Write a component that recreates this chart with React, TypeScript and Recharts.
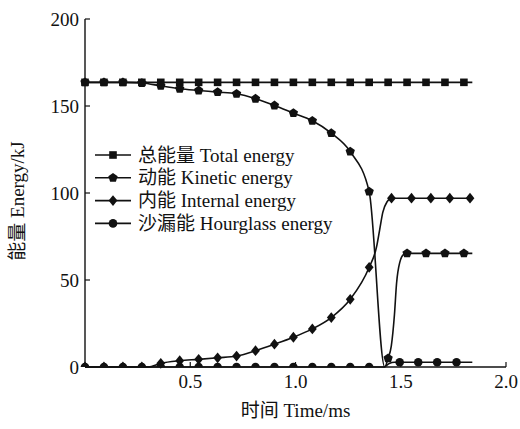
import React from 'react';
import { LineChart, Line, XAxis, YAxis } from 'recharts';

// ---- data ----
const gridTimes = [0, 0.09, 0.18, 0.27, 0.36, 0.45, 0.54, 0.63, 0.72, 0.81, 0.9, 0.99, 1.08, 1.17, 1.26, 1.35, 1.44, 1.53, 1.62, 1.71, 1.8];

const totalValues = [163.6, 163.6, 163.6, 163.6, 163.6, 163.6, 163.6, 163.6, 163.6, 163.6, 163.6, 163.6, 163.6, 163.6, 163.6, 163.6, 163.6, 163.6, 163.6, 163.6, 163.6];
const totalExtraTimes = [1.84];
const totalExtraValues = [163.6];

const kineticValues = [163.6, 163.6, 163.6, 163.2, 161.6, 159.9, 158.9, 158.0, 157.0, 154.2, 150.3, 145.9, 141.5, 134.4, 123.8, 100.8, 5.0, 65.3, 65.3, 65.3, 65.3];
const kineticExtraTimes = [1.424, 1.455, 1.47, 1.48, 1.495, 1.515, 1.84];
const kineticExtraValues = [0, 12, 30, 48, 60, 64.8, 65.3];

const internalTimes = [0, 0.09, 0.18, 0.27, 0.36, 0.45, 0.54, 0.63, 0.72, 0.81, 0.9, 0.99, 1.08, 1.17, 1.26, 1.35, 1.456, 1.551, 1.643, 1.733, 1.829];
const internalValues = [0, 0, 0, 0, 2.1, 3.6, 4.4, 5.3, 6.3, 9.4, 13.1, 17.1, 21.9, 28.4, 38.9, 57.3, 97, 97, 97, 97, 97];
const internalExtraTimes = [0.3, 1.385, 1.4, 1.415, 1.435, 1.84];
const internalExtraValues = [0, 69, 79, 89, 95, 97];

const hourglassTimes = [0, 0.09, 0.18, 0.27, 0.36, 0.45, 0.54, 0.63, 0.72, 0.81, 0.9, 0.99, 1.08, 1.17, 1.26, 1.35, 1.495, 1.583, 1.673, 1.765];
const hourglassValues = [0, 0, 0, 0, 0, 0, 0, 0, 0, 0, 0, 0, 0, 0, 0, 0, 2.7, 2.7, 2.7, 2.7];
const hourglassExtraTimes = [1.42, 1.445, 1.47, 1.84];
const hourglassExtraValues = [0, 2.0, 2.7, 2.7];

const seriesNames = ['总能量 Total energy', '动能 Kinetic energy', '内能 Internal energy', '沙漏能 Hourglass energy'];
const xTicks = [0.5, 1.0, 1.5, 2.0];
const yTicks = [0, 50, 100, 150, 200];
const xTitle = '时间 Time/ms';
const yTitle = '能量 Energy/kJ';

// ---- helpers ----
type Pt = { t: number; v: number; mk: boolean };
function build(mt: number[], mv: number[], et: number[], ev: number[]): Pt[] {
  const pts: Pt[] = [];
  mt.forEach((t, i) => pts.push({ t, v: mv[i], mk: true }));
  et.forEach((t, i) => pts.push({ t, v: ev[i], mk: false }));
  pts.sort((a, b) => a.t - b.t);
  return pts;
}

type Shape = 'square' | 'pentagon' | 'diamond' | 'circle';

const series: { name: string; shape: Shape; data: Pt[] }[] = [
  { name: seriesNames[0], shape: 'square', data: build(gridTimes, totalValues, totalExtraTimes, totalExtraValues) },
  { name: seriesNames[1], shape: 'pentagon', data: build(gridTimes, kineticValues, kineticExtraTimes, kineticExtraValues) },
  { name: seriesNames[2], shape: 'diamond', data: build(internalTimes, internalValues, internalExtraTimes, internalExtraValues) },
  { name: seriesNames[3], shape: 'circle', data: build(hourglassTimes, hourglassValues, hourglassExtraTimes, hourglassExtraValues) },
];

const FONT = "'Liberation Serif', 'Times New Roman', 'Noto Sans CJK SC', serif";
const INK = '#111';

function markerShape(shape: Shape, cx: number, cy: number, half: boolean, key?: string) {
  if (shape === 'square') {
    const s = 3.8;
    return <rect key={key} x={cx - s} y={cy - s} width={2 * s} height={half ? s : 2 * s} fill={INK} />;
  }
  if (shape === 'diamond') {
    const w = 4.4, h = 5.4;
    const pts = half
      ? `${cx},${cy - h} ${cx + w},${cy} ${cx - w},${cy}`
      : `${cx},${cy - h} ${cx + w},${cy} ${cx},${cy + h} ${cx - w},${cy}`;
    return <polygon key={key} points={pts} fill={INK} />;
  }
  if (shape === 'pentagon') {
    const r = 4.9;
    const pts: string[] = [];
    for (let k = 0; k < 5; k++) {
      const a = (-90 + 72 * k) * Math.PI / 180;
      pts.push(`${cx + r * Math.cos(a)},${cy + r * Math.sin(a)}`);
    }
    return <polygon key={key} points={pts.join(' ')} fill={INK} />;
  }
  const r = 4.3;
  if (half) {
    return <path key={key} d={`M${cx - r},${cy} A${r},${r} 0 0 1 ${cx + r},${cy} Z`} fill={INK} />;
  }
  return <circle key={key} cx={cx} cy={cy} r={r} fill={INK} />;
}

const makeDot = (shape: Shape) => (props: any) => {
  const { cx, cy, payload, index } = props;
  const key = `${shape}-${index}`;
  if (!payload || !payload.mk || cx == null || cy == null) return <g key={key} />;
  return markerShape(shape, cx, cy, payload.v === 0, key);
};

const XTick = (props: any) => {
  const { x, y, payload } = props;
  const axisY = y - 8;
  return (
    <g>
      <line x1={x} x2={x} y1={axisY} y2={axisY - 5} stroke={INK} strokeWidth={1.2} />
      <text x={x} y={y} dy="0.71em" textAnchor="middle" fontFamily={FONT} fontSize={19} fill={INK}>
        {Number(payload.value).toFixed(1)}
      </text>
    </g>
  );
};

const YTick = (props: any) => {
  const { x, y, payload } = props;
  const axisX = x + 6;
  return (
    <g>
      <line x1={axisX} x2={axisX + 5} y1={y} y2={y} stroke={INK} strokeWidth={1.2} />
      <text x={x} y={y} dy="0.355em" textAnchor="end" fontFamily={FONT} fontSize={19} fill={INK}>
        {payload.value}
      </text>
    </g>
  );
};

export default function App() {
  return (
    <div style={{ position: 'absolute', left: 0, top: 0, width: 520, height: 429, background: '#fff' }}>
      <LineChart width={520} height={429} margin={{ top: 19, right: 14, bottom: 0, left: 0 }}>
        <XAxis
          type="number"
          dataKey="t"
          domain={[0, 2]}
          ticks={xTicks}
          tickSize={0}
          tickMargin={8}
          tickLine={false}
          height={62}
          axisLine={{ stroke: INK, strokeWidth: 1.4 }}
          tick={<XTick />}
          allowDuplicatedCategory={false}
          label={{
            content: (p: any) => {
              const vb = p.viewBox || { x: 85, width: 421 };
              return (
                <text x={vb.x + vb.width / 2} y={417} textAnchor="middle" fontFamily={FONT} fontSize={19} fill={INK}>
                  {xTitle}
                </text>
              );
            },
          }}
        />
        <YAxis
          type="number"
          domain={[0, 200]}
          ticks={yTicks}
          width={85}
          tickSize={0}
          tickMargin={6}
          tickLine={false}
          axisLine={{ stroke: INK, strokeWidth: 1.4 }}
          tick={<YTick />}
          label={{
            content: () => (
              <text
                x={17}
                y={201}
                transform="rotate(-90, 17, 201)"
                textAnchor="middle"
                dominantBaseline="central"
                fontFamily={FONT}
                fontSize={19}
                fill={INK}
              >
                {yTitle}
              </text>
            ),
          }}
        />
        {series.map((s) => (
          <Line
            key={s.name}
            name={s.name}
            data={s.data}
            dataKey="v"
            type="monotone"
            stroke={INK}
            strokeWidth={1.6}
            dot={makeDot(s.shape)}
            activeDot={false}
            isAnimationActive={false}
          />
        ))}
      </LineChart>
      <svg width={520} height={429} style={{ position: 'absolute', left: 0, top: 0, pointerEvents: 'none' }}>
        {series.map((s, i) => {
          const cy = 155 + 22.8 * i;
          return (
            <g key={s.name}>
              <line x1={95} x2={131} y1={cy} y2={cy} stroke={INK} strokeWidth={1.6} />
              {markerShape(s.shape, 113, cy, false)}
              <text x={138} y={cy} dy="0.35em" fontFamily={FONT} fontSize={19} fill={INK}>
                {s.name}
              </text>
            </g>
          );
        })}
      </svg>
    </div>
  );
}
